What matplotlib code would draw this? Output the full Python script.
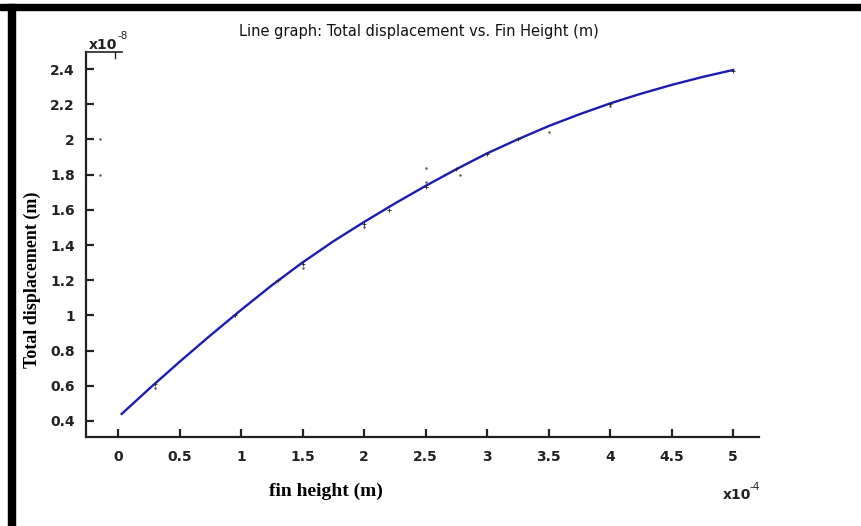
import matplotlib
matplotlib.use("Agg")
import matplotlib.pyplot as plt
from matplotlib.patches import Rectangle
from matplotlib.lines import Line2D
from matplotlib.ticker import FuncFormatter

# fin height (x10^-4 m) and total displacement (x10^-8 m)
fin_height = [0.03, 0.25, 0.5, 0.75, 1.0, 1.25, 1.5, 1.75, 2.0, 2.25, 2.5,
              2.75, 3.0, 3.25, 3.5, 3.75, 4.0, 4.25, 4.5, 4.75, 5.0]
displacement = [0.44, 0.581, 0.736, 0.886, 1.031, 1.171, 1.301, 1.421, 1.531,
                1.636, 1.736, 1.831, 1.921, 2.001, 2.076, 2.143, 2.205, 2.26,
                2.31, 2.355, 2.395]

# small cross markers sitting on the curve
mark_x = [0.3, 0.95, 1.3, 1.5, 2.0, 2.2, 2.5, 2.75, 3.0, 3.25, 4.0, 5.0]
mark_y = [0.61, 1.00, 1.20, 1.29, 1.52, 1.60, 1.73, 1.83, 1.92, 2.00, 2.20,
          2.39]

# loose dots scattered around the curve
stray_x = [-0.15, -0.15, 2.5, 2.5, 2.65, 2.78, 3.5, 2.0, 1.5, 0.3, 4.0]
stray_y = [2.0, 1.8, 1.84, 1.76, 1.80, 1.80, 2.04, 1.50, 1.27, 0.59, 2.19]

x_ticks = [0, 0.5, 1, 1.5, 2, 2.5, 3, 3.5, 4, 4.5, 5]
y_ticks = [0.4, 0.6, 0.8, 1, 1.2, 1.4, 1.6, 1.8, 2, 2.2, 2.4]

fig = plt.figure(figsize=(8.61, 5.26), dpi=100)
ax = fig.add_axes([0.0999, 0.1692, 0.7816, 0.7319])

ax.plot(fin_height, displacement, color="#1c1cb4", lw=1.7, zorder=3)
ax.plot(mark_x, mark_y, ls="none", marker="+", ms=3.5, mew=0.6,
        color="#222222", zorder=4)
ax.plot(stray_x, stray_y, ls="none", marker=".", ms=1.5, color="#555555")

ax.set_xlim(-0.26, 5.21)
ax.set_ylim(0.309, 2.497)
ax.set_xticks(x_ticks)
ax.set_yticks(y_ticks)
fmt = FuncFormatter(lambda v, p: f"{v:g}")
ax.xaxis.set_major_formatter(fmt)
ax.yaxis.set_major_formatter(fmt)

for s in ("top", "right"):
    ax.spines[s].set_visible(False)
for s in ("left", "bottom"):
    ax.spines[s].set_linewidth(1.6)
    ax.spines[s].set_color("#222222")

ax.tick_params(direction="in", length=6, width=1.6, color="#222222", pad=8)
ax.tick_params(axis="x", pad=9)
for lab in ax.get_xticklabels() + ax.get_yticklabels():
    lab.set_fontfamily("DejaVu Sans")
    lab.set_fontweight("bold")
    lab.set_fontsize(10)
    lab.set_color("#222222")

# small bracket at top of the y axis
ax.add_line(Line2D([0, 0.053], [1, 1], transform=ax.transAxes, color="#222222",
                   lw=1.2, clip_on=False))
ax.add_line(Line2D([0.043, 0.043], [1, 0.985], transform=ax.transAxes,
                   color="#222222", lw=1.0, clip_on=False))

fig.text(0.487, 0.941, "Line graph: Total displacement vs. Fin Height (m)",
         ha="center", va="center", fontsize=10.5, family="DejaVu Sans",
         color="#111111")
fig.text(0.103, 0.902, "x10", ha="left", va="bottom",
         fontsize=10, family="DejaVu Sans", fontweight="bold",
         color="#222222")
fig.text(0.137, 0.922, "-8", ha="left", va="bottom",
         fontsize=7.5, family="DejaVu Sans", color="#222222")
fig.text(0.839, 0.059, "x10", ha="left", va="center",
         fontsize=10, family="DejaVu Sans", fontweight="bold",
         color="#222222")
fig.text(0.870, 0.075, "-4", ha="left", va="center",
         fontsize=7.5, family="DejaVu Sans", color="#222222")
fig.text(0.379, 0.066, "fin height (m)", ha="center", va="center",
         fontsize=14, family="Liberation Serif", fontweight="bold")
fig.text(0.037, 0.468, "Total displacement (m)", ha="center", va="center",
         rotation=90, fontsize=13, family="Liberation Serif",
         fontweight="bold")

# black frame strips along the top and left edges
fig.patches.append(Rectangle((0, 0.981), 1, 0.012, transform=fig.transFigure,
                             color="black", zorder=0))
fig.patches.append(Rectangle((0.009, 0), 0.008, 0.993,
                             transform=fig.transFigure, color="black",
                             zorder=0))

fig.savefig("out.png", dpi=100)
